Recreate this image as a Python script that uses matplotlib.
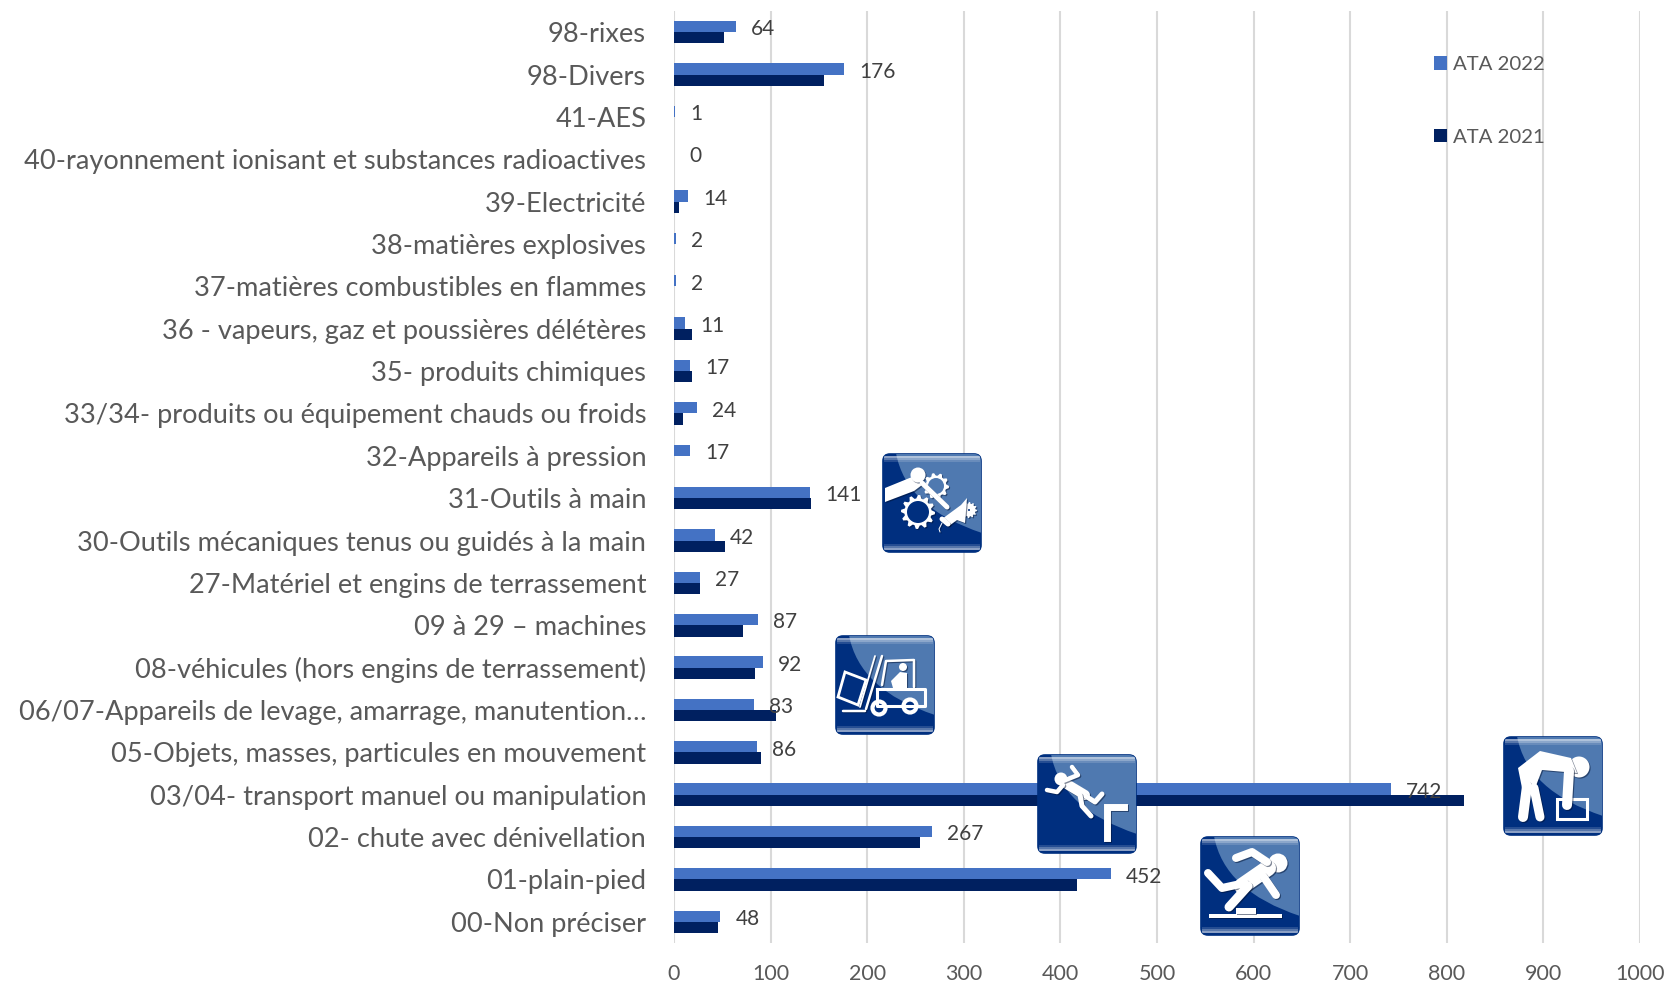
import numpy as np
import matplotlib
matplotlib.use('Agg')
import matplotlib.pyplot as plt
from matplotlib.patches import FancyBboxPatch, PathPatch, Circle, Polygon, Rectangle
from matplotlib.path import Path
from matplotlib.patheffects import SimpleLineShadow, SimplePatchShadow, Normal

plt.rcParams['font.family'] = ['Lato', 'DejaVu Sans']

categories = ['00-Non préciser', '01-plain-pied', '02- chute avec dénivellation',
              '03/04- transport manuel ou manipulation', '05-Objets, masses, particules en mouvement',
              '06/07-Appareils de levage, amarrage, manutention…', '08-véhicules (hors engins de terrassement)',
              '09 à 29 – machines', '27-Matériel et engins de terrassement',
              '30-Outils mécaniques tenus ou guidés à la main', '31-Outils à main', '32-Appareils à pression',
              '33/34- produits ou équipement chauds ou froids', '35- produits chimiques',
              '36 - vapeurs, gaz et poussières délétères', '37-matières combustibles en flammes',
              '38-matières explosives', '39-Electricité',
              '40-rayonnement ionisant et substances radioactives', '41-AES', '98-Divers', '98-rixes']
ata_2022 = [48, 452, 267, 742, 86, 83, 92, 87, 27, 42, 141, 17, 24, 17, 11, 2, 2, 14, 0, 1, 176, 64]
ata_2021 = [46, 417, 255, 818, 90, 106, 84, 71, 27, 53, 142, 0, 9, 19, 19, 0, 0, 5, 0, 0, 155, 52]
x_ticks = [0, 100, 200, 300, 400, 500, 600, 700, 800, 900, 1000]

W, H = 1665, 985
LIGHT, DARK = '#4472C4', '#002060'
fig = plt.figure(figsize=(W / 100, H / 100), dpi=100)
ax = fig.add_axes([674 / W, 1 - 943 / H, 966 / W, 932 / H])

y = np.arange(len(categories))
bar_h = 0.267
ax.barh(y + bar_h / 2, ata_2022, bar_h, color=LIGHT, label='ATA 2022', zorder=3)
ax.barh(y - bar_h / 2, ata_2021, bar_h, color=DARK, label='ATA 2021', zorder=3)
ax.set_xlim(0, 1000)
ax.set_ylim(-0.5, len(categories) - 0.5)
ax.set_xticks(x_ticks)
ax.set_yticks(y)
ax.set_yticklabels(categories, fontsize=19.6, color='#595959')
ax.tick_params(axis='y', length=0, pad=20)
ax.tick_params(axis='x', length=0, pad=15, labelsize=15.5, labelcolor='#595959')
ax.grid(axis='x', color='#D9D9D9', lw=1.5, zorder=0)
ax.set_axisbelow(True)
for s in ax.spines.values():
    s.set_visible(False)

for yi, v in zip(y, ata_2022):
    ax.annotate(str(v), (v, yi), xytext=(11, 2), textcoords='offset points', va='center', ha='left',
                fontsize=15, color='#404040', zorder=30, annotation_clip=False)

leg = ax.legend(loc='upper left', bbox_to_anchor=((1433.5 - 674) / 966, (943 - 56) / 932), frameon=False,
                fontsize=14.7, labelspacing=2.72, handlelength=0.65, handleheight=0.65, handletextpad=0.3,
                labelcolor='#595959', borderpad=0, borderaxespad=0)


def icon(x0, y0, size=100):
    a = fig.add_axes([x0 / W, 1 - (y0 + size) / H, size / W, size / H], zorder=10)
    a.set_xlim(0, 100)
    a.set_ylim(100, 0)
    a.axis('off')
    box = FancyBboxPatch((1, 1), 98, 98, boxstyle='round,pad=0,rounding_size=7', fc='#002F7F', ec='#00307F', lw=1.2)
    a.add_patch(box)
    p = Path([(14, 0), (24, 55), (100, 80), (100, 80), (100, 0), (14, 0)],
             [Path.MOVETO, Path.CURVE3, Path.CURVE3, Path.LINETO, Path.LINETO, Path.CLOSEPOLY])
    lp = PathPatch(p, fc='#4F79B0', ec='none')
    a.add_patch(lp)
    lp.set_clip_path(box)
    for (yt, ht, al) in [(3, 2, .55), (5, 2, .35), (7, 2, .15), (95, 2, .55), (93, 2, .35), (91, 2, .15)]:
        r = Rectangle((2, yt), 96, ht, fc='white', alpha=al, ec='none')
        a.add_patch(r)
        r.set_clip_path(box)
    return a


def ln(a, pts, w):
    xs, ys = zip(*pts)
    a.plot(xs, ys, color='white', lw=w * 0.72, solid_capstyle='round', solid_joinstyle='round',
           path_effects=[SimpleLineShadow(offset=(0.8, -0.8), alpha=0.5, shadow_color='#001030'), Normal()])


def shape(a, patch):
    patch.set_path_effects([SimplePatchShadow(offset=(0.8, -0.8), alpha=0.5, shadow_rgbFace='#001030'), Normal()])
    a.add_patch(patch)


def gear(a, cx, cy, ro, ri, n, hole='#002F7F'):
    t = np.linspace(0, 2 * np.pi, 4 * n, endpoint=False)
    r = np.tile([ro, ro, ro * 0.8, ro * 0.8], n)
    shape(a, Polygon(np.c_[cx + r * np.cos(t), cy + r * np.sin(t)], fc='white', ec='none'))
    a.add_patch(Circle((cx, cy), ri, fc=hole, ec='none'))


# Tools icon
a = icon(882, 453)
shape(a, Polygon([(3, 35), (30, 24), (40, 32), (32, 38), (3, 49)], fc='white', ec='none'))
shape(a, Circle((36, 22), 7.5, fc='white', ec='none'))
ln(a, [(40, 30), (65, 54)], 5)
gear(a, 36, 59, 17, 11, 12)
gear(a, 54, 33, 13, 8, 10, hole='#4F79B0')
gear(a, 87, 57, 8, 1, 12)
shape(a, Polygon([(60, 66), (79, 52), (85, 45), (83, 70), (75, 67), (67, 73)], fc='white', ec='none'))
ln(a, [(60, 66), (66, 71)], 5)
ln(a, [(60, 70), (57, 76), (58, 79)], 1)

# Forklift icon
a = icon(835, 635)
ln(a, [(47, 21), (31, 74)], 2.5)
ln(a, [(40, 21), (25, 72)], 1.8)
ln(a, [(47, 50), (51, 26), (79, 25), (79, 52)], 2.5)
shape(a, Circle((68, 32), 4, fc='white', ec='none'))
shape(a, Polygon([(56, 46), (65, 37), (72, 38), (72, 53), (58, 53)], fc='white', ec='none'))
a.plot([42, 90, 90, 42, 42], [54, 54, 71, 71, 54], color='white', lw=2.2)
ln(a, [(8, 76), (30, 76)], 2.5)
for cx, cy in [(44, 73), (75, 71)]:
    a.add_patch(Circle((cx, cy), 6.5, fc='#002F7F', ec='white', lw=3))
a.add_patch(Polygon([(10, 37), (31, 45), (23, 70), (3, 62)], fc='none', ec='white', lw=2))

# Falling icon
a = icon(1037, 754)
shape(a, Circle((24, 25), 6.5, fc='white', ec='none'))
ln(a, [(28, 29), (48, 41)], 10)
ln(a, [(26, 27), (41, 21), (35, 13)], 4.5)
ln(a, [(26, 31), (20, 38), (10, 36)], 4.5)
ln(a, [(47, 41), (58, 48), (65, 40)], 5)
ln(a, [(43, 41), (45, 52), (54, 62)], 5)
a.plot([70, 70, 87], [84, 53, 53], color='white', lw=5, solid_joinstyle='miter',
       path_effects=[SimpleLineShadow(offset=(0.8, -0.8), alpha=0.5, shadow_color='#001030'), Normal()])

# Tripping icon
a = icon(1200, 836)
shape(a, Circle((78, 27), 9.5, fc='white', ec='none'))
ln(a, [(68, 32), (42, 50)], 16)
ln(a, [(67, 26), (52, 16), (36, 22)], 8)
ln(a, [(63, 40), (76, 59)], 8)
ln(a, [(45, 47), (22, 52), (8, 37)], 8)
ln(a, [(48, 50), (29, 71)], 9)
shape(a, Polygon([(9, 78), (82, 78), (82, 82), (9, 82)], fc='white', ec='none'))
shape(a, Polygon([(36, 72), (56, 72), (56, 78), (36, 78)], fc='white', ec='none'))

# Lifting icon
a = icon(1503, 736)
shape(a, Circle((76, 31), 10.5, fc='white', ec='none'))
shape(a, Polygon([(15, 32), (37, 15), (68, 22), (74, 37), (39, 34), (31, 55), (19, 52)], fc='white', ec='none'))
ln(a, [(24, 50), (20, 81)], 10)
ln(a, [(31, 52), (37, 81)], 9)
ln(a, [(66, 35), (64, 69)], 10)
a.add_patch(Rectangle((54, 63), 30, 20, fc='none', ec='white', lw=2.2))

fig.savefig('out.png', dpi=100)
